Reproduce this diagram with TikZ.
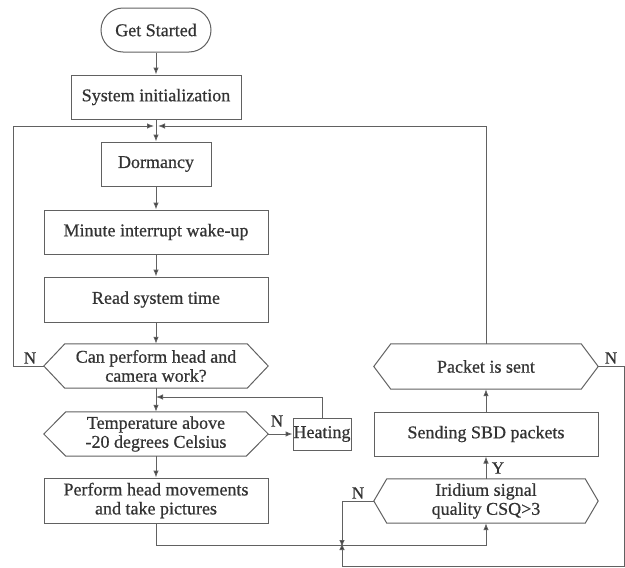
\documentclass[tikz,border=0pt]{standalone}
\usepackage{fontspec}
\setmainfont{Liberation Serif}[AutoFakeBold=0.6]
\usetikzlibrary{arrows.meta}
\begin{document}
\begin{tikzpicture}[x=1pt,y=-1pt,
  line/.style={draw=black!62, line width=1pt},
  arr/.style={line, -{Latex[length=7pt,width=5.5pt,fill=black!80]}},
  box/.style={line, rectangle, inner sep=0pt, align=center, text=black!80,
    font=\fontsize{18}{19}\selectfont\bfseries},
  hexn/.style={rectangle, inner sep=0pt, align=center, text=black!80,
    font=\fontsize{18}{19}\selectfont\bfseries},
  lab/.style={inner sep=0pt, text=black!80, font=\fontsize{17}{18}\selectfont\bfseries}]
\newcommand\hexpath[2]{\draw[line] ([xshift=#2]#1.north west) -- ([xshift=-#2]#1.north east) -- (#1.east) -- ([xshift=-#2]#1.south east) -- ([xshift=#2]#1.south west) -- (#1.west) -- cycle;}
\useasboundingbox (0,0) rectangle (625,568);

\node[box, rounded corners=22pt, minimum width=110pt, minimum height=44pt] (start) at (156,30) {Get Started};
\node[box, minimum width=170pt, minimum height=44pt] (init) at (156,97) {System initialization};
\node[box, minimum width=110pt, minimum height=44pt] (dorm) at (156,164) {Dormancy};
\node[box, minimum width=224pt, minimum height=44pt] (minute) at (156,232) {Minute interrupt wake-up};
\node[box, minimum width=224pt, minimum height=45pt] (readt) at (156,299.5) {Read system time};
\node[hexn, minimum width=224pt, minimum height=44pt] (canp) at (156,366) {Can perform head and\\camera work?};
\node[hexn, minimum width=224pt, minimum height=44pt] (temp) at (156,434) {Temperature above\\-20 degrees Celsius};
\node[box, minimum width=58pt, minimum height=32pt] (heat) at (322,434) {Heating};
\node[box, minimum width=224pt, minimum height=45pt] (perf) at (156,500.5) {Perform head movements\\and take pictures};
\node[hexn, minimum width=224pt, minimum height=45pt] (pack) at (486,366.5) {Packet is sent};
\node[box, minimum width=224pt, minimum height=44pt] (send) at (486,434) {Sending SBD packets};
\node[hexn, minimum width=224pt, minimum height=44pt] (iri) at (486,501) {Iridium signal\\quality CSQ>3};

\hexpath{canp}{21pt}
\hexpath{temp}{22pt}
\hexpath{pack}{17pt}
\hexpath{iri}{13pt}

\coordinate (top) at (156,126);
\coordinate (tl) at (13,126);
\coordinate (tr) at (486,126);
\coordinate (cl) at (13,366);
\coordinate (hj) at (156,397);
\coordinate (hc) at (322,397);
\coordinate (pb) at (156,545);
\coordinate (bj) at (342,545);
\coordinate (br) at (486,545);
\coordinate (il) at (342,501);
\coordinate (pr) at (624,366.5);
\coordinate (prb) at (624,566);
\coordinate (bb) at (342,566);

\draw[arr] (start) -- (init);
\draw[arr] (init) -- (dorm);
\draw[arr] (dorm) -- (minute);
\draw[arr] (minute) -- (readt);
\draw[arr] (readt) -- (canp.north);
\draw[arr] (canp.south) -- (temp.north);
\draw[arr] (temp) -- (perf);
\draw[arr] (canp.west) -- (cl) -- (tl) -- ([xshift=-2pt]top);
\draw[arr] (pack.north) -- (tr) -- ([xshift=2pt]top);
\draw[arr] (temp.east) -- (heat.west);
\draw[arr] (heat.north) -- (hc) -- (hj);
\draw[arr] (perf.south) -- (pb) -- (br) -- (iri.south);
\draw[arr] (iri.west) -- (il) -- ([yshift=-2pt]bj);
\draw[arr] (pack.east) -- (pr) -- (prb) -- (bb) -- ([yshift=2pt]bj);
\draw[arr] (iri.north) -- (send.south);
\draw[arr] (send.north) -- (pack.south);

\node[lab] (n1) at (30,358) {N};
\node[lab] (n2) at (277,421) {N};
\node[lab] (y1) at (498,468) {Y};
\node[lab] (n3) at (358,493) {N};
\node[lab] (n4) at (611,358) {N};
\end{tikzpicture}
\end{document}
